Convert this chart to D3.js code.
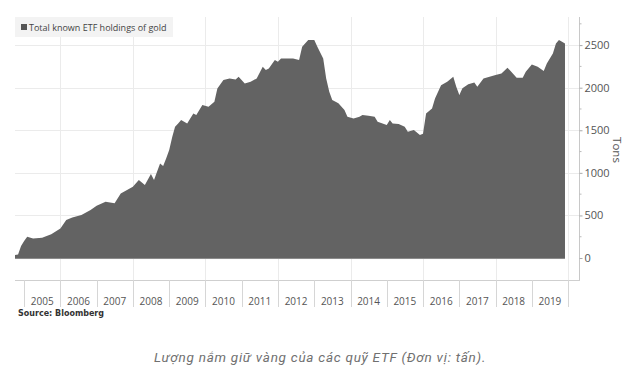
<!DOCTYPE html>
<html>
<head>
<meta charset="utf-8">
<script src="https://cdn.jsdelivr.net/npm/d3@7"></script>
<style>
  body { margin: 0; background: #fff; }
  svg { display: block; }
</style>
</head>
<body>
<div id="chart"></div>
<script>
// values (tons)
const months = [
  "2004-10", "2004-11", "2004-12", "2005-01", "2005-02", "2005-04", "2005-07", "2005-10",
  "2006-01", "2006-03", "2006-05", "2006-08", "2006-11", "2007-01", "2007-04", "2007-07",
  "2007-09", "2008-01", "2008-03", "2008-05", "2008-07", "2008-08", "2008-10", "2008-11",
  "2008-12", "2009-01", "2009-02", "2009-03", "2009-04", "2009-05", "2009-07", "2009-09",
  "2009-10", "2009-12", "2010-02", "2010-04", "2010-05", "2010-07", "2010-09", "2010-11",
  "2010-12", "2011-02", "2011-04", "2011-06", "2011-08", "2011-09", "2011-10", "2011-12",
  "2012-01", "2012-02", "2012-05", "2012-06", "2012-08", "2012-09", "2012-11", "2013-01",
  "2013-02", "2013-04", "2013-05", "2013-06", "2013-07", "2013-09", "2013-11", "2013-12",
  "2014-02", "2014-04", "2014-05", "2014-07", "2014-09", "2014-10", "2015-01", "2015-02",
  "2015-03", "2015-05", "2015-07", "2015-08", "2015-10", "2015-12", "2016-01", "2016-02",
  "2016-04", "2016-05", "2016-07", "2016-09", "2016-11", "2016-12", "2017-01", "2017-02",
  "2017-04", "2017-06", "2017-07", "2017-09", "2017-11", "2018-01", "2018-03", "2018-05",
  "2018-06", "2018-08", "2018-10", "2018-11", "2019-01", "2019-03", "2019-05", "2019-06",
  "2019-08", "2019-09", "2019-10", "2019-11", "2019-12"
];
const tons = [
  35, 40, 140, 200, 250, 230, 238, 278,
  348, 446, 477, 505, 563, 614, 661, 642,
  759, 837, 915, 857, 986, 915, 1111, 1080,
  1170, 1268, 1424, 1541, 1580, 1620, 1580, 1698,
  1678, 1796, 1776, 1835, 1991, 2089, 2109, 2097,
  2128, 2050, 2070, 2109, 2246, 2207, 2226, 2324,
  2304, 2343, 2343, 2343, 2324, 2480, 2559, 2559,
  2480, 2343, 2109, 1953, 1855, 1816, 1737, 1659,
  1639, 1659, 1678, 1670, 1659, 1600, 1561, 1620,
  1580, 1573, 1541, 1483, 1502, 1444, 1460, 1698,
  1757, 1874, 2030, 2070, 2128, 2011, 1913, 1992,
  2039, 2062, 2011, 2109, 2128, 2148, 2167, 2234,
  2195, 2117, 2117, 2187, 2273, 2246, 2195, 2285,
  2402, 2519, 2559, 2539, 2520
];
const yearLabels = d3.range(2005, 2020);
const yTicks = [0, 500, 1000, 1500, 2000, 2500];

const width = 637, height = 376;
const plot = { left: 15, right: 579, top: 17, bottom: 280 };

const parse = d3.timeParse("%Y-%m");
const data = months.map((m, i) => ({ date: parse(m), value: tons[i] }));

const svg = d3.select("#chart")
              .append("svg")
              .attr("width", width)
              .attr("height", height);

const x = d3.scaleTime()
            .domain([new Date(2004, 9, 1), new Date(2020, 3, 10)])
            .range([plot.left, plot.right - 1]);

const y = d3.scaleLinear()
            .domain([-258, 2830])
            .range([plot.bottom, plot.top]);

// grid
const grid = svg.append("g").attr("stroke", "#ebebeb").attr("stroke-width", 1);

grid.selectAll("line.h")
    .data(yTicks.slice(1))
    .join("line")
    .attr("class", "h")
    .attr("x1", plot.left)
    .attr("x2", plot.right)
    .attr("y1", d => Math.round(y(d)) + 0.5)
    .attr("y2", d => Math.round(y(d)) + 0.5);

grid.selectAll("line.v")
    .data(d3.range(2006, 2021, 2))
    .join("line")
    .attr("class", "v")
    .attr("x1", d => Math.round(x(new Date(d, 0, 1))) + 0.5)
    .attr("x2", d => Math.round(x(new Date(d, 0, 1))) + 0.5)
    .attr("y1", plot.top)
    .attr("y2", plot.bottom);

// area (step-like start, then linear)
const area = d3.area()
               .x(d => x(d.date))
               .y0(y(0))
               .y1(d => y(d.value));

svg.append("path")
   .datum(data)
   .attr("d", area)
   .attr("fill", "#636363");

svg.append("line")
   .attr("x1", plot.left)
   .attr("x2", x(data[data.length - 1].date))
   .attr("y1", y(0) + 0.5)
   .attr("y2", y(0) + 0.5)
   .attr("stroke", "#8a8a8a");

// right axis
const yAxis = svg.append("g")
                 .attr("transform", `translate(${plot.right + 0.5},0)`)
                 .call(d3.axisRight(y)
                         .tickValues(yTicks)
                         .tickFormat(d3.format("d"))
                         .tickSize(3)
                         .tickPadding(2));

yAxis.select(".domain")
     .attr("d", `M0,${plot.top}V${plot.bottom}`)
     .attr("stroke", "#c8c8c8");
yAxis.selectAll(".tick line").attr("stroke", "#aaa");
yAxis.selectAll(".tick text")
     .attr("fill", "#555")
     .style("font", "11px 'Open Sans', sans-serif");

svg.append("g")
   .attr("transform", `translate(${plot.right + 0.5},0)`)
   .selectAll("line")
   .data(d3.range(250, 2800, 500))
   .join("line")
   .attr("x2", 2)
   .attr("y1", d => y(d))
   .attr("y2", d => y(d))
   .attr("stroke", "#bbb");

svg.append("text")
   .attr("transform", "translate(613,150) rotate(90)")
   .attr("text-anchor", "middle")
   .attr("fill", "#555")
   .style("font", "11.5px 'Open Sans', sans-serif")
   .text("Tons");

// bottom frame and year axis
svg.append("line")
   .attr("x1", plot.left)
   .attr("x2", plot.right + 1)
   .attr("y1", plot.bottom + 0.5)
   .attr("y2", plot.bottom + 0.5)
   .attr("stroke", "#cfcfcf");

const xAxis = svg.append("g");

xAxis.selectAll("line")
     .data(d3.range(2005, 2021))
     .join("line")
     .attr("x1", d => Math.round(x(new Date(d, 0, 1))) + 0.5)
     .attr("x2", d => Math.round(x(new Date(d, 0, 1))) + 0.5)
     .attr("y1", plot.bottom)
     .attr("y2", plot.bottom + 27)
     .attr("stroke", "#d6d6d6");

xAxis.selectAll("text")
     .data(yearLabels)
     .join("text")
     .attr("x", d => x(new Date(d, 6, 2)))
     .attr("y", 305)
     .attr("text-anchor", "middle")
     .attr("fill", "#555")
     .style("font", "10px 'Open Sans', sans-serif")
     .text(d => d);

svg.append("text")
   .attr("x", 18)
   .attr("y", 316)
   .attr("fill", "#333")
   .style("font", "bold 8px 'DejaVu Sans', sans-serif")
   .text("Source:  Bloomberg");

// legend
const legend = svg.append("g").attr("transform", "translate(15,17)");
legend.append("rect")
      .attr("width", 158)
      .attr("height", 20)
      .attr("fill", "#f3f3f3");
legend.append("rect")
      .attr("x", 6)
      .attr("y", 7)
      .attr("width", 6)
      .attr("height", 6)
      .attr("fill", "#555");
legend.append("text")
      .attr("x", 14)
      .attr("y", 13.5)
      .attr("fill", "#444")
      .style("font", "9px 'Open Sans', sans-serif")
      .text("Total known ETF holdings of gold");

// caption
svg.append("text")
   .attr("x", 320)
   .attr("y", 361.5)
   .attr("text-anchor", "middle")
   .attr("fill", "#707070")
   .style("font", "italic 13.5px Roboto, sans-serif")
   .style("letter-spacing", "0.75px")
   .text("Lượng nắm giữ vàng của các quỹ ETF (Đơn vị: tấn).");
</script>
</body>
</html>
